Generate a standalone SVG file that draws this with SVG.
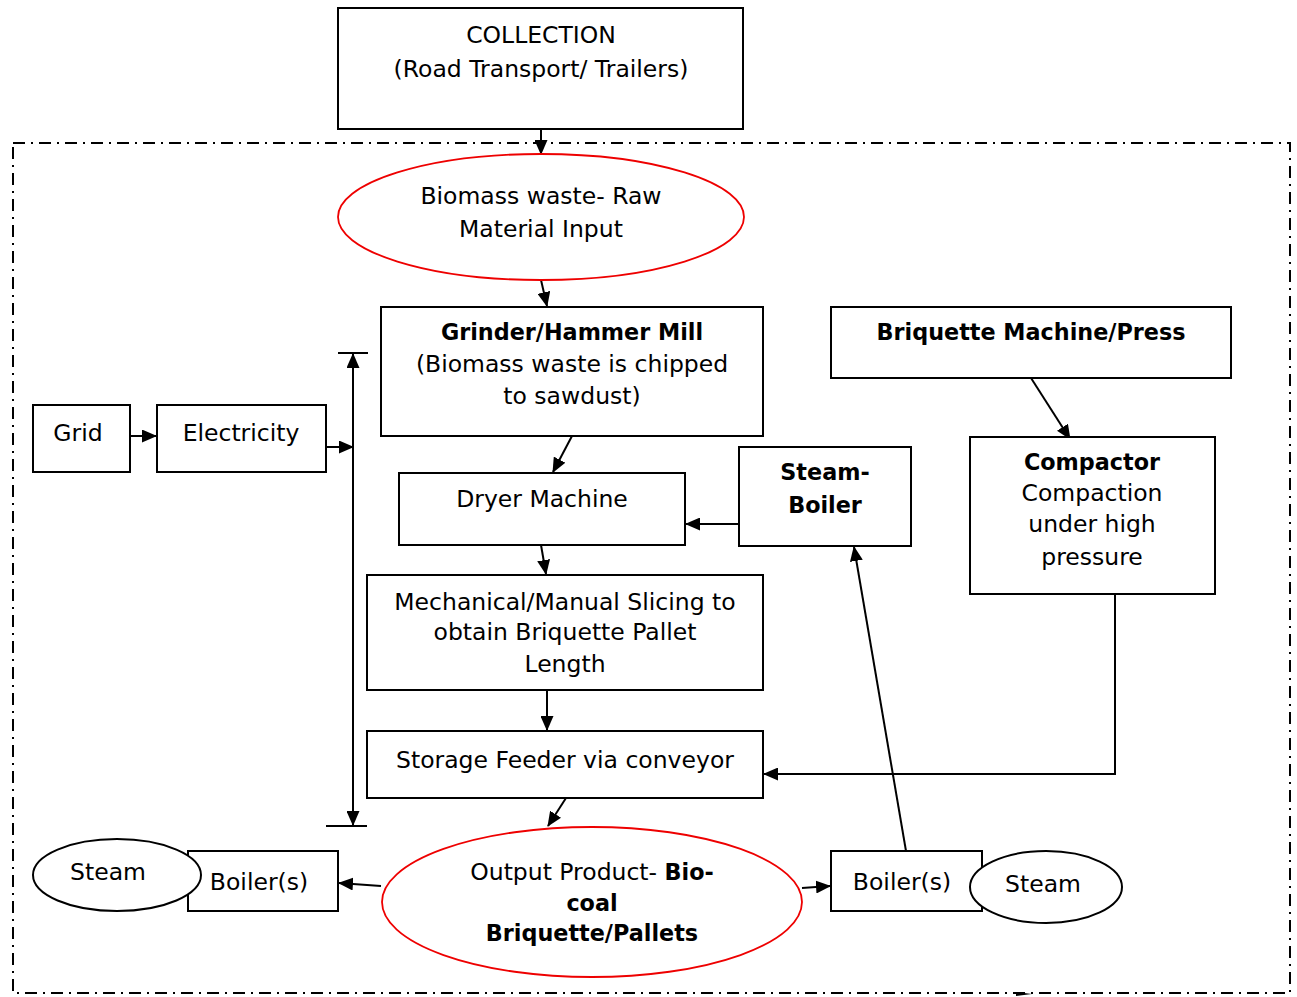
<svg xmlns="http://www.w3.org/2000/svg" width="1297" height="997" viewBox="0 0 1297 997">
<style>
.box{fill:#fff;stroke:#000;stroke-width:2}
.red{fill:#fff;stroke:#e00;stroke-width:1.8}
.ell{fill:#fff;stroke:#000;stroke-width:2}
.ln{fill:none;stroke:#000;stroke-width:2}
text{font-family:"DejaVu Sans","Open Sans",sans-serif;font-size:23.5px;fill:#000;text-anchor:middle}
.b{font-weight:bold;font-size:22.3px}
</style>
<defs>
<marker id="ah" markerUnits="userSpaceOnUse" markerWidth="15" markerHeight="13" refX="14" refY="6.5" orient="auto">
<path d="M0,0 L15,6.5 L0,13 Z" fill="#000"/>
</marker>
</defs>
<rect x="13" y="143" width="1277" height="850" fill="none" stroke="#000" stroke-width="2" stroke-dasharray="12,6,2,6"/>
<g id="connectors">
<line class="ln" x1="541" y1="129" x2="541" y2="154" marker-end="url(#ah)"/>
<line class="ln" x1="541" y1="280" x2="547" y2="306" marker-end="url(#ah)"/>
<line class="ln" x1="572" y1="436" x2="553" y2="472" marker-end="url(#ah)"/>
<line class="ln" x1="739" y1="524" x2="686" y2="524" marker-end="url(#ah)"/>
<line class="ln" x1="541" y1="545" x2="546" y2="574" marker-end="url(#ah)"/>
<line class="ln" x1="547" y1="690" x2="547" y2="730" marker-end="url(#ah)"/>
<line class="ln" x1="566" y1="798" x2="548" y2="826" marker-end="url(#ah)"/>
<line class="ln" x1="381" y1="886" x2="339" y2="883" marker-end="url(#ah)"/>
<line class="ln" x1="802" y1="888" x2="830" y2="886" marker-end="url(#ah)"/>
<line class="ln" x1="906" y1="851" x2="854" y2="547" marker-end="url(#ah)"/>
<line class="ln" x1="1031" y1="378" x2="1070" y2="439" marker-end="url(#ah)"/>
<polyline class="ln" points="1115,594 1115,774 764,774" marker-end="url(#ah)"/>
<line class="ln" x1="130" y1="436" x2="156" y2="436" marker-end="url(#ah)"/>
<line class="ln" x1="326" y1="447" x2="353" y2="447" marker-end="url(#ah)"/>
<line class="ln" x1="353" y1="590" x2="353" y2="354" marker-end="url(#ah)"/>
<line class="ln" x1="353" y1="590" x2="353" y2="825" marker-end="url(#ah)"/>
<line class="ln" x1="338" y1="353" x2="368" y2="353"/>
<line class="ln" x1="326" y1="826" x2="367" y2="826"/>
<path d="M1016,992 L1032,994 L1016,996 Z" fill="#000"/>
</g>
<g id="collection">
<rect class="box" x="338" y="8" width="405" height="121"/>
<text x="541" y="43">COLLECTION</text>
<text x="541" y="77">(Road Transport/ Trailers)</text>
</g>
<g id="biomass">
<ellipse class="red" cx="541" cy="217" rx="203" ry="63"/>
<text x="541" y="204">Biomass waste- Raw</text>
<text x="541" y="237">Material Input</text>
</g>
<g id="grinder">
<rect class="box" x="381" y="307" width="382" height="129"/>
<text class="b" x="572" y="340">Grinder/Hammer Mill</text>
<text x="572" y="372">(Biomass waste is chipped</text>
<text x="572" y="404">to sawdust)</text>
</g>
<g id="dryer">
<rect class="box" x="399" y="473" width="286" height="72"/>
<text x="542" y="507">Dryer Machine</text>
</g>
<g id="steamboiler">
<rect class="box" x="739" y="447" width="172" height="99"/>
<text class="b" x="825" y="480">Steam-</text>
<text class="b" x="825" y="513">Boiler</text>
</g>
<g id="slicing">
<rect class="box" x="367" y="575" width="396" height="115"/>
<text x="565" y="610">Mechanical/Manual Slicing to</text>
<text x="565" y="640">obtain Briquette Pallet</text>
<text x="565" y="672">Length</text>
</g>
<g id="storage">
<rect class="box" x="367" y="731" width="396" height="67"/>
<text x="565" y="768">Storage Feeder via conveyor</text>
</g>
<g id="output">
<ellipse class="red" cx="592" cy="902" rx="210" ry="75"/>
<text x="592" y="880">Output Product- <tspan class="b">Bio-</tspan></text>
<text class="b" x="592" y="911">coal</text>
<text class="b" x="592" y="941">Briquette/Pallets</text>
</g>
<g id="boiler-left">
<rect class="box" x="188" y="851" width="150" height="60"/>
<text x="259" y="890">Boiler(s)</text>
</g>
<g id="steam-left">
<ellipse class="ell" cx="117" cy="875" rx="84" ry="36"/>
<text x="108" y="880">Steam</text>
</g>
<g id="boiler-right">
<rect class="box" x="831" y="851" width="151" height="60"/>
<text x="902" y="890">Boiler(s)</text>
</g>
<g id="steam-right">
<ellipse class="ell" cx="1046" cy="887" rx="76" ry="36"/>
<text x="1043" y="892">Steam</text>
</g>
<g id="briquette">
<rect class="box" x="831" y="307" width="400" height="71"/>
<text class="b" x="1031" y="340">Briquette Machine/Press</text>
</g>
<g id="compactor">
<rect class="box" x="970" y="437" width="245" height="157"/>
<text class="b" x="1092" y="470">Compactor</text>
<text x="1092" y="501">Compaction</text>
<text x="1092" y="532">under high</text>
<text x="1092" y="565">pressure</text>
</g>
<g id="grid">
<rect class="box" x="33" y="405" width="97" height="67"/>
<text x="78" y="441">Grid</text>
</g>
<g id="electricity">
<rect class="box" x="157" y="405" width="169" height="67"/>
<text x="241" y="441">Electricity</text>
</g>
</svg>
